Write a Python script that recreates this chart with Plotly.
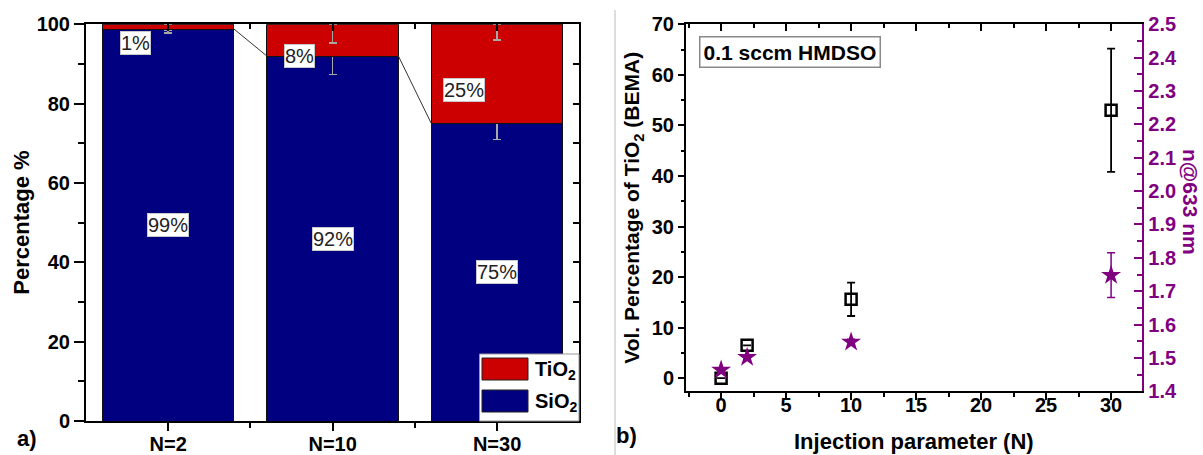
import plotly.graph_objects as go

# ---------------- data ----------------
categories = ["N=2", "N=10", "N=30"]
sio2 = [98.8, 92.0, 75.0]
tio2 = [1.2, 8.0, 25.0]
sio2_err = [1.0, 4.7, 4.1]
tio2_err = [1.6, 4.7, 3.9]
sio2_labels = ["99%", "92%", "75%"]
tio2_labels = ["1%", "8%", "25%"]
tio2_label_y = [95.4, 91.9, 83.5]

inj_n = [0, 2, 10, 30]
vol_tio2 = [0.0, 6.5, 15.6, 53.0]
vol_tio2_err = [0.0, 0.0, 3.3, 12.2]
n633 = [1.464, 1.502, 1.548, 1.748]
n633_err = [0.0, 0.0, 0.008, 0.067]

RED = "#CC0000"
NAVY = "#000080"
PURPLE = "#800080"
FONT = "Liberation Sans"
W, H = 1203, 455

def px(x):
    return x / W

def py(y):
    return 1 - y / H

L_X = [px(86), px(579.3)]
L_Y = [py(421), py(24.3)]
R_X = [px(686), px(1142.3)]
R_Y = [py(391.3), py(24.3)]

bar_w = 0.8
xi = list(range(len(categories)))

fig = go.Figure()

# stacked bars
fig.add_trace(go.Bar(
    x=xi, y=sio2, width=bar_w, name="SiO<sub>2</sub>",
    marker=dict(color=NAVY, line=dict(color="#111", width=1)),
    error_y=dict(type="data", array=sio2_err, color="#a8a8a8", thickness=1.5, width=4),
    xaxis="x", yaxis="y", showlegend=False, hoverinfo="skip"))
fig.add_trace(go.Bar(
    x=xi, y=tio2, width=bar_w, name="TiO<sub>2</sub>",
    marker=dict(color=RED, line=dict(color="#111", width=1)),
    error_y=dict(type="data", symmetric=False, array=[0] * len(tio2), arrayminus=tio2_err,
                 color="#a8a8a8", thickness=1.5, width=4),
    xaxis="x", yaxis="y", showlegend=False, hoverinfo="skip"))

# connector lines between bar tops
cx, cy = [], []
for i in range(len(sio2) - 1):
    cx += [xi[i] + bar_w / 2, xi[i + 1] - bar_w / 2, None]
    cy += [sio2[i], sio2[i + 1], None]
fig.add_trace(go.Scatter(x=cx, y=cy, mode="lines", line=dict(color="#333", width=1),
                         xaxis="x", yaxis="y", showlegend=False, hoverinfo="skip"))

# dummy traces for mirrored inside-tick axes
fig.add_trace(go.Scatter(x=[None], y=[None], xaxis="x3", yaxis="y3", showlegend=False, hoverinfo="skip"))
fig.add_trace(go.Scatter(x=[None], y=[None], xaxis="x4", yaxis="y2", showlegend=False, hoverinfo="skip"))

# right panel
fig.add_trace(go.Scatter(
    x=inj_n, y=vol_tio2, mode="markers",
    marker=dict(symbol="square-open", size=11, color="black", line=dict(width=2.5, color="black")),
    error_y=dict(type="data", array=vol_tio2_err, color="black", thickness=1.8, width=4),
    xaxis="x2", yaxis="y2", showlegend=False, hoverinfo="skip"))
fig.add_trace(go.Scatter(
    x=inj_n, y=n633, mode="markers",
    marker=dict(symbol="star", size=15, color=PURPLE, line=dict(width=0)),
    error_y=dict(type="data", array=n633_err, color=PURPLE, thickness=1.5, width=4),
    xaxis="x2", yaxis="y4", showlegend=False, hoverinfo="skip"))

tickfont = dict(family=FONT, size=20, color="black", weight="bold")
axline = dict(showline=True, linecolor="black", linewidth=2, showgrid=False, zeroline=False,
              automargin=False)
noline = dict(showline=False, showgrid=False, zeroline=False, automargin=False)

fig.update_layout(
    template="none",
    width=W, height=H, autosize=False,
    margin=dict(l=0, r=0, t=0, b=0, pad=0),
    paper_bgcolor="white", plot_bgcolor="white",
    showlegend=False,
    barmode="stack", bargap=0.2,
    font=dict(family=FONT, color="black"),
    xaxis=dict(domain=L_X, range=[-0.5, 2.5], anchor="y", tickmode="array", tickvals=xi,
               ticktext=categories, ticks="outside", ticklen=8, tickwidth=2, tickcolor="black",
               ticklabelstandoff=-4,
               minor=dict(tickmode="array", tickvals=[0.5, 1.5], ticks="outside", ticklen=5,
                          tickwidth=2, tickcolor="black"),
               mirror=True, tickfont=tickfont, **axline),
    yaxis=dict(domain=L_Y, range=[0, 100], anchor="x", tickmode="linear", tick0=0, dtick=20,
               ticks="outside", ticklen=10, tickwidth=2, tickcolor="black",
               minor=dict(dtick=10, ticks="outside", ticklen=6, tickwidth=2, tickcolor="black"),
               mirror=True, tickfont=tickfont, **axline),
    xaxis3=dict(overlaying="x", side="top", anchor="y3", range=[-0.5, 2.5], tickmode="array",
                tickvals=xi, showticklabels=False, ticks="inside", ticklen=7, tickwidth=2,
                tickcolor="black",
                minor=dict(tickmode="array", tickvals=[0.5, 1.5], ticks="inside", ticklen=5,
                           tickwidth=2, tickcolor="black"), **noline),
    yaxis3=dict(overlaying="y", side="right", anchor="x3", range=[0, 100], tickmode="linear",
                tick0=0, dtick=20, showticklabels=False, ticks="inside", ticklen=6, tickwidth=2,
                tickcolor="black",
                minor=dict(dtick=10, ticks="inside", ticklen=6, tickwidth=2, tickcolor="black"),
                **noline),
    xaxis2=dict(domain=R_X, range=[-2.7, 32.4], anchor="y2", tickmode="linear", tick0=0, dtick=5,
                ticks="outside", ticklen=7, tickwidth=2, tickcolor="black",
                ticklabelstandoff=-12,
                minor=dict(dtick=2.5, ticks="outside", ticklen=4, tickwidth=2, tickcolor="black"),
                mirror=True, tickfont=tickfont, **axline),
    yaxis2=dict(domain=R_Y, range=[-2.6, 70], anchor="x2", tickmode="linear", tick0=0, dtick=10,
                ticks="outside", ticklen=6, tickwidth=2, tickcolor="black",
                minor=dict(dtick=5, ticks="outside", ticklen=3, tickwidth=2, tickcolor="black"),
                mirror=False, tickfont=tickfont, **axline),
    xaxis4=dict(overlaying="x2", side="top", anchor="y2", range=[-2.7, 32.4], tickmode="linear",
                tick0=0, dtick=5, showticklabels=False, ticks="inside", ticklen=7, tickwidth=2,
                tickcolor="black",
                minor=dict(dtick=2.5, ticks="inside", ticklen=4, tickwidth=2, tickcolor="black"),
                **noline),
    yaxis4=dict(overlaying="y2", side="right", anchor="x2", range=[1.4, 2.5], tickmode="linear",
                tick0=1.4, dtick=0.1, tickformat=".1f", ticks="inside", ticklen=8, tickwidth=2,
                tickcolor=PURPLE,
                minor=dict(dtick=0.05, ticks="inside", ticklen=5, tickwidth=2, tickcolor=PURPLE),
                showline=True, linecolor=PURPLE, linewidth=2, showgrid=False, zeroline=False,
                automargin=False,
                tickfont=dict(family=FONT, size=20, color=PURPLE, weight="bold")),
)

ann = []
# bar labels
for i in xi:
    ann.append(dict(x=xi[i], y=sio2[i] / 2, xref="x", yref="y", text=sio2_labels[i],
                    showarrow=False, font=dict(family=FONT, size=20, color="#222"),
                    bgcolor="white", bordercolor="#c8c8c8", borderwidth=1, borderpad=0))
    ann.append(dict(x=xi[i] - 0.2, y=tio2_label_y[i], xref="x", yref="y", text=tio2_labels[i],
                    showarrow=False, font=dict(family=FONT, size=20, color="#222"),
                    bgcolor="white", bordercolor="#c8c8c8", borderwidth=1, borderpad=0))

bold = dict(family=FONT, color="black", weight="bold")
ann += [
    dict(x=px(22), y=(L_Y[0] + L_Y[1]) / 2, text="Percentage %",
         textangle=-90, font=dict(size=22, **bold)),
    dict(x=px(633), y=(R_Y[0] + R_Y[1]) / 2,
         text="Vol. Percentage of TiO<sub>2</sub> (BEMA)",
         textangle=-90, font=dict(size=21, **bold)),
    dict(x=px(1191), y=py(202), text="n@633 nm",
         textangle=90, font=dict(family=FONT, size=21, color=PURPLE, weight="bold")),
    dict(x=(R_X[0] + R_X[1]) / 2, y=py(441),
         text="Injection parameter (N)", font=dict(size=22, **bold)),
    dict(x=px(27), y=py(438), text="a)", font=dict(size=22, **bold)),
    dict(x=px(626), y=py(435), text="b)", font=dict(size=22, **bold)),
    dict(x=px(790), y=py(52), text="0.1 sccm HMDSO",
         font=dict(size=21, **bold), bgcolor="white",
         bordercolor="#888", borderwidth=1.5, borderpad=3),
]
for a in ann[2 * len(xi):]:
    a.update(xref="paper", yref="paper", showarrow=False, xanchor="center", yanchor="middle")

# legend (manual, large swatches)
legend_items = [("TiO<sub>2</sub>", RED, 358, 380), ("SiO<sub>2</sub>", NAVY, 390, 412)]
shapes = [
    dict(type="rect", xref="paper", yref="paper", x0=px(479.5), x1=px(579), y0=py(421), y1=py(354),
         line=dict(color="#999", width=1), fillcolor="white", layer="above"),
    dict(type="line", xref="paper", yref="paper", x0=px(615), x1=px(615), y0=py(10), y1=py(455),
         line=dict(color="#bbb", width=1)),
]
for label, col, y0, y1 in legend_items:
    shapes.append(dict(type="rect", xref="paper", yref="paper", x0=px(482), x1=px(528),
                       y0=py(y1), y1=py(y0), fillcolor=col, line=dict(color="#222", width=1),
                       layer="above"))
    ann.append(dict(x=px(533), y=py((y0 + y1) / 2 + 1), xref="paper", yref="paper", text=label,
                    xanchor="left", yanchor="middle", showarrow=False, font=dict(size=20, **bold)))

fig.update_layout(annotations=ann, shapes=shapes)
fig.write_html("out.html", config={"displayModeBar": False},
               post_script="document.body.style.margin='0';document.body.style.overflow='hidden';")
